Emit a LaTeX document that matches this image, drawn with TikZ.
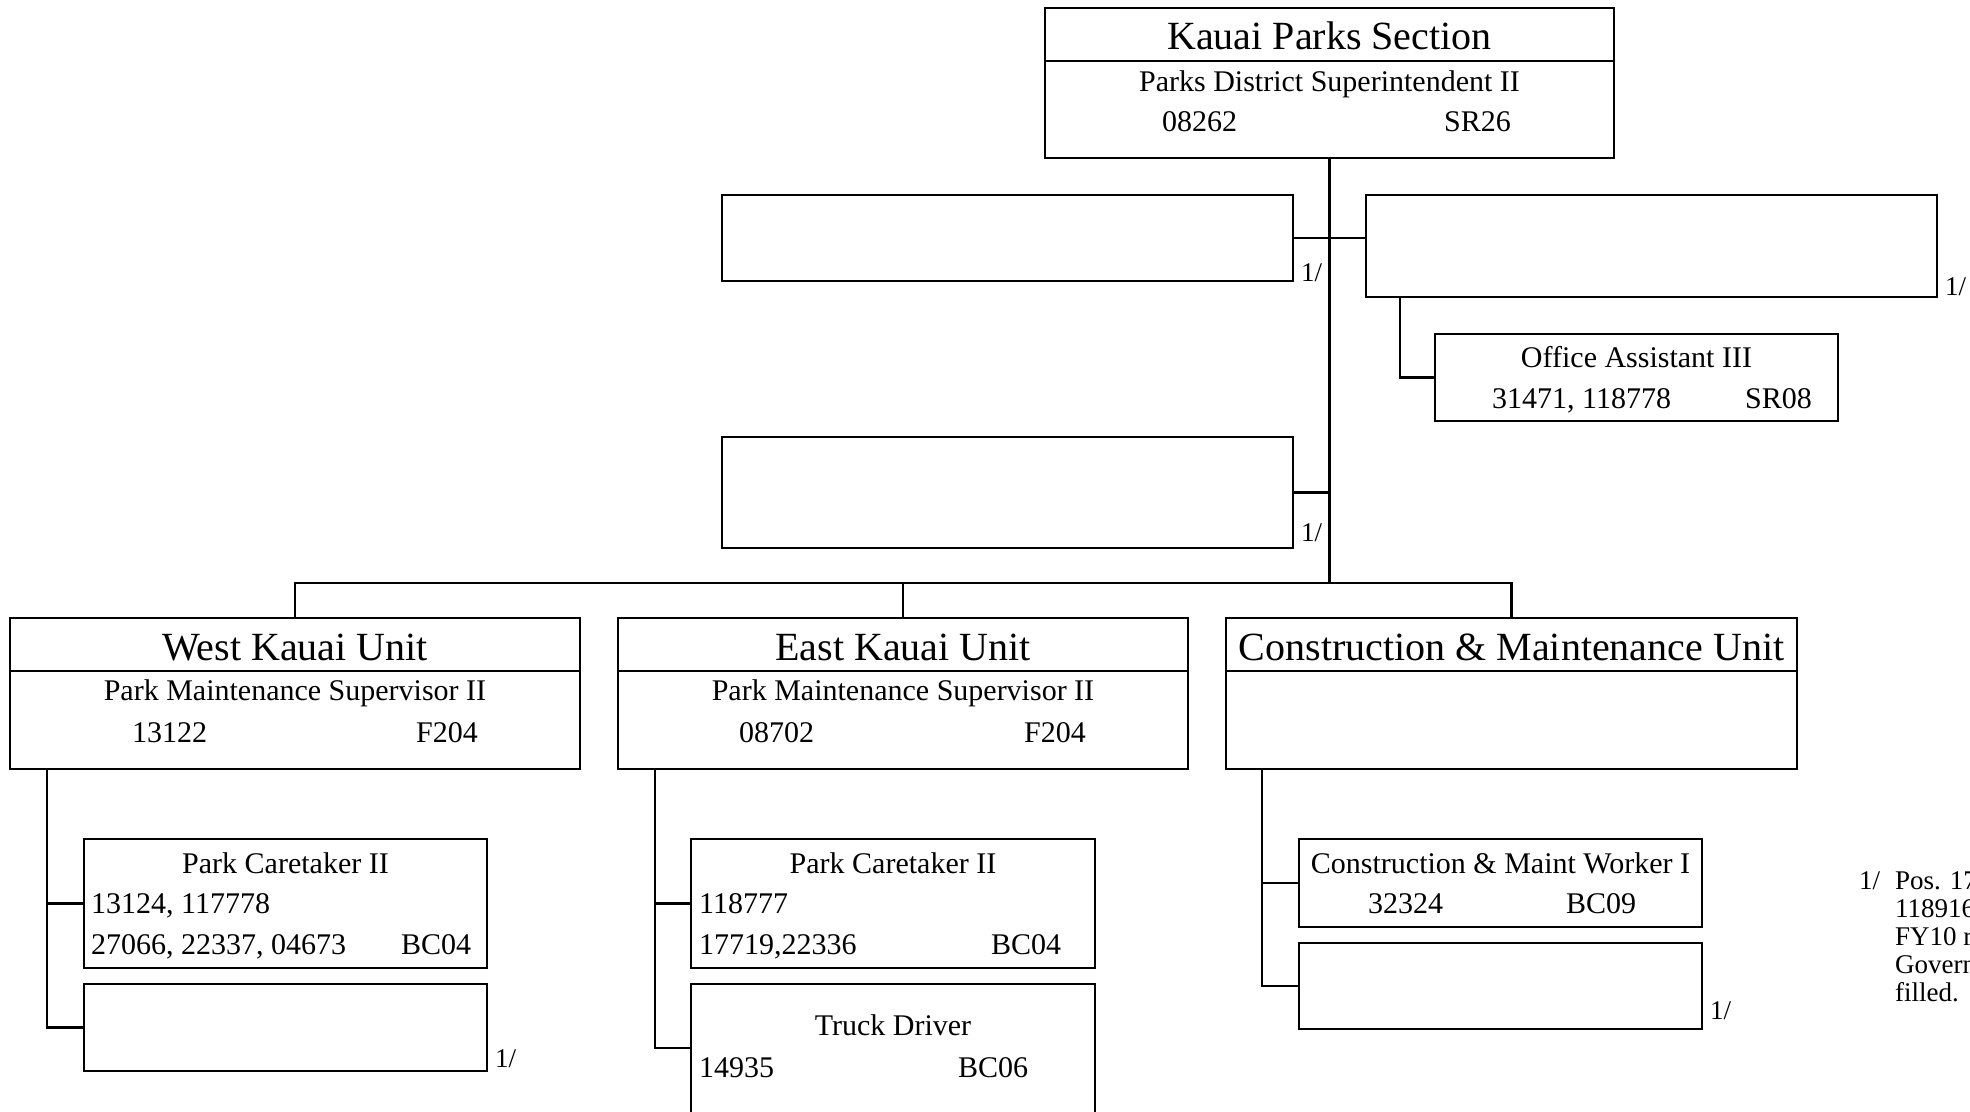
\documentclass[tikz,border=0pt]{standalone}
\usepackage{fontspec}
\setmainfont{Liberation Serif}
\usetikzlibrary{calc}
\tikzset{
  box/.style={draw, line width=2.5pt, rectangle, inner sep=0pt, outer sep=0pt, anchor=north west},
  conn/.style={line width=2.3pt},
  divider/.style={line width=1.2pt},
  ttl/.style={inner sep=0pt, font=\fontsize{40}{48}\selectfont},
  txt/.style={inner sep=0pt, font=\fontsize{30}{36}\selectfont},
  sm/.style={inner sep=0pt, font=\fontsize{27}{32}\selectfont},
}
\newcommand{\bx}[5]{\node[box, minimum width=#4-#2, minimum height=#5-#3] (#1) at (#2,#3) {};}
\begin{document}
\begin{tikzpicture}[x=1pt, y=-1pt]
\useasboundingbox (0,0) rectangle (1970,1111);
\clip (0,0) rectangle (1970,1111);
\fill[white] (0,0) rectangle (1970,1111);

% boxes
\bx{top}{1045}{8}{1614}{158}
\bx{boxA}{722}{195}{1293}{281}
\bx{boxB}{1366}{195}{1937}{297}
\bx{office}{1435}{334}{1838}{421}
\bx{boxC}{722}{437}{1293}{548}
\bx{west}{10}{618}{580}{769}
\bx{east}{618}{618}{1188}{769}
\bx{cmu}{1226}{618}{1797}{769}
\bx{wpc}{84}{839}{487}{968}
\bx{wblank}{84}{984}{487}{1071}
\bx{epc}{691}{839}{1095}{968}
\bx{truck}{691}{984}{1095}{1118}
\bx{cmw}{1299}{839}{1702}{927}
\bx{cblank}{1299}{943}{1702}{1029}

% dividers
\draw[divider] (top.west |- 0,61) -- (top.east |- 0,61);
\draw[divider] (west.west |- 0,671) -- (west.east |- 0,671);
\draw[divider] (east.west |- 0,671) -- (east.east |- 0,671);
\draw[divider] (cmu.west |- 0,671) -- (cmu.east |- 0,671);

% connectors
\coordinate (bus) at (1329.5,583);
\draw[conn] (top.south) -- (bus);
\draw[conn] (boxA.east |- 0,238) -- (boxB.west |- 0,238);
\coordinate (bdrop) at ($(boxB.south west)+(34,0)$);
\draw[conn] (bdrop) |- (office.west);
\draw[conn] (boxC.east) -- (boxC.east -| top.south);
\draw[conn] (west.north) -- (west.north |- bus) -- (cmu.north |- bus) -- (cmu.north);
\draw[conn] (east.north) -- (east.north |- bus);
\coordinate (wdrop) at ($(west.south west)+(37,0)$);
\draw[conn] (wdrop) |- (wblank.west);
\draw[conn] (wpc.west) -- (wpc.west -| wdrop);
\coordinate (edrop) at ($(east.south west)+(37,0)$);
\draw[conn] (edrop) |- (truck.west |- 0,1048);
\draw[conn] (epc.west) -- (epc.west -| edrop);
\coordinate (cdrop) at ($(cmu.south west)+(36,0)$);
\draw[conn] (cdrop) |- (cblank.west);
\draw[conn] (cmw.west) -- (cmw.west -| cdrop);

% texts: top
\node[ttl, anchor=base] (tT1) at (1329.5,49) {Kauai Parks Section};
\node[txt, anchor=base] (tT2) at (1329.5,91) {Parks District Superintendent II};
\node[txt, anchor=base west] (tT3) at (1162,131) {08262};
\node[txt, anchor=base west] (tT4) at (1444,131) {SR26};
% office
\node[txt, anchor=base] (tO1) at (1636.5,367) {Office Assistant III};
\node[txt, anchor=base west] (tO2) at (1492,408) {31471, 118778};
\node[txt, anchor=base west] (tO3) at (1745,408) {SR08};
% west
\node[ttl, anchor=base] (tW1) at (295,660) {West Kauai Unit};
\node[txt, anchor=base] (tW2) at (295,700) {Park Maintenance Supervisor II};
\node[txt, anchor=base west] (tW3) at (132,742) {13122};
\node[txt, anchor=base west] (tW4) at (416,742) {F204};
% east
\node[ttl, anchor=base] (tE1) at (903,660) {East Kauai Unit};
\node[txt, anchor=base] (tE2) at (903,700) {Park Maintenance Supervisor II};
\node[txt, anchor=base west] (tE3) at (739,742) {08702};
\node[txt, anchor=base west] (tE4) at (1024,742) {F204};
% construction
\node[ttl, anchor=base] (tC1) at (1511.5,660) {Construction \& Maintenance Unit};
% west park caretaker
\node[txt, anchor=base] (tWP1) at (285.5,873) {Park Caretaker II};
\node[txt, anchor=base west] (tWP2) at (91,913) {13124, 117778};
\node[txt, anchor=base west] (tWP3) at (91,954) {27066, 22337, 04673};
\node[txt, anchor=base west] (tWP4) at (401,954) {BC04};
% east park caretaker
\node[txt, anchor=base] (tEP1) at (893,873) {Park Caretaker II};
\node[txt, anchor=base west] (tEP2) at (699,913) {118777};
\node[txt, anchor=base west] (tEP3) at (699,954) {17719,22336};
\node[txt, anchor=base west] (tEP4) at (991,954) {BC04};
% truck driver
\node[txt, anchor=base] (tTD1) at (893,1035) {Truck Driver};
\node[txt, anchor=base west] (tTD2) at (699,1077) {14935};
\node[txt, anchor=base west] (tTD3) at (958,1077) {BC06};
% construction worker
\node[txt, anchor=base] (tCW1) at (1500.5,873) {Construction \& Maint Worker I};
\node[txt, anchor=base west] (tCW2) at (1368,913) {32324};
\node[txt, anchor=base west] (tCW3) at (1566,913) {BC09};

% footnote marks
\node[sm, anchor=base west] (fA) at (1301,281) {1/};
\node[sm, anchor=base west] (fB) at (1945,295) {1/};
\node[sm, anchor=base west] (fC) at (1301,541) {1/};
\node[sm, anchor=base west] (fW) at (495,1067) {1/};
\node[sm, anchor=base west] (fCB) at (1710,1019) {1/};

% footnote text (cut by the page edge)
\node[sm, anchor=base west] (fn0) at (1859,889) {1/};
\node[sm, anchor=base west] (fn1) at (1895,889) {Pos. 17};
\node[sm, anchor=base west] (fn2) at (1895,917) {118916};
\node[sm, anchor=base west] (fn3) at (1895,945) {FY10 r};
\node[sm, anchor=base west] (fn4) at (1895,973) {Govern};
\node[sm, anchor=base west] (fn5) at (1895,1001) {filled.};
\end{tikzpicture}
\end{document}
